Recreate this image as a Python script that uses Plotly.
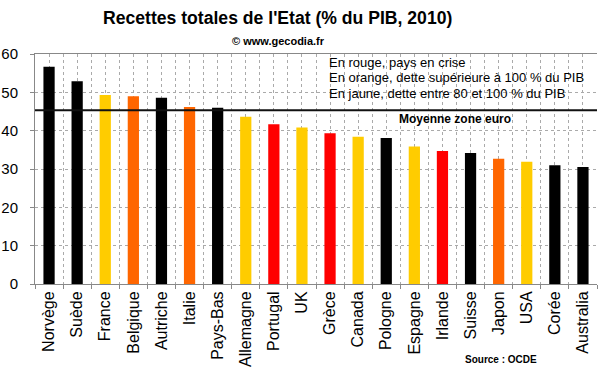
import plotly.graph_objects as go

countries = ["Norvège", "Suède", "France", "Belgique", "Autriche", "Italie", "Pays-Bas",
             "Allemagne", "Portugal", "UK", "Grèce", "Canada", "Pologne", "Espagne",
             "Irlande", "Suisse", "Japon", "USA", "Corée", "Australia"]
values = [56.7, 52.9, 49.3, 49.0, 48.6, 46.2, 46.0, 43.6, 41.7, 40.8,
          39.3, 38.4, 38.1, 35.9, 34.7, 34.2, 32.7, 31.9, 31.0, 30.5]
groups = ["autre", "autre", "jaune", "orange", "autre", "orange", "autre", "jaune", "rouge", "jaune",
          "rouge", "jaune", "autre", "jaune", "rouge", "autre", "orange", "jaune", "autre", "autre"]
mean_zone_euro = 45.3
y_ticks = [0, 10, 20, 30, 40, 50, 60]

palette = {"autre": "#000000", "jaune": "#FFCC00", "orange": "#FF6600", "rouge": "#FF0000"}
FONT = "Liberation Sans, Arial, sans-serif"

fig = go.Figure()
fig.add_trace(go.Bar(x=countries, y=values, marker=dict(color=[palette[g] for g in groups], line=dict(width=0)),
                     width=0.4, showlegend=False, hoverinfo="x+y"))

fig.add_shape(type="line", xref="x domain", yref="y", x0=0, x1=1, y0=mean_zone_euro, y1=mean_zone_euro,
              line=dict(color="#111111", width=2), layer="above")

fig.update_layout(
    width=600, height=372,
    margin=dict(l=35, r=3, t=54, b=88),
    paper_bgcolor="white", plot_bgcolor="white",
    font=dict(family=FONT, color="#000000"),
    xaxis=dict(type="category", tickson="boundaries", showgrid=True, gridcolor="#aaaaaa", griddash="dot",
               gridwidth=1, ticks="outside", ticklen=4, tickcolor="#888888", showline=True,
               linecolor="#888888", mirror=True, tickangle=-90, tickfont=dict(size=16, family=FONT),
               range=[-0.5, 19.5], automargin=False, ticklabelstandoff=0),
    xaxis2=dict(overlaying="x", range=[-0.5, 19.5], tick0=0, dtick=1, showgrid=True, gridcolor="#aaaaaa",
                griddash="dot", showticklabels=False, ticks="", showline=False, zeroline=False),
    yaxis=dict(range=[0, 60], tickvals=y_ticks, showgrid=True, gridcolor="#aaaaaa", griddash="dot",
               ticks="outside", ticklen=4, tickcolor="#888888", showline=True, linecolor="#888888",
               zeroline=False, tickfont=dict(size=15, family=FONT), ticklabelstandoff=9, automargin=False),
    bargap=0.6,
)
# invisible trace to activate xaxis2 gridlines (category centres)
fig.add_trace(go.Scatter(x=[0], y=[0], xaxis="x2", mode="markers", marker=dict(opacity=0),
                         showlegend=False, hoverinfo="skip"))

PH = 230.0

def py(ypix):
    return (284 - ypix) / PH

def px(xpix):
    return (xpix - 35) / 562.0

fig.add_annotation(text="<b>Recettes totales de l'Etat (% du PIB, 2010)</b>", xref="paper", yref="paper",
                   x=px(277), y=py(18), showarrow=False, xanchor="center", yanchor="middle",
                   font=dict(size=17.6, family=FONT))
fig.add_annotation(text="<b>© www.gecodia.fr</b>", xref="paper", yref="paper",
                   x=px(278), y=py(41), showarrow=False, xanchor="center", yanchor="middle",
                   font=dict(size=11, family=FONT))

notes = ["En rouge, pays en crise", "En orange, dette supérieure à 100 % du PIB",
         "En jaune, dette entre 80 et 100 % du PIB"]
for i, t in enumerate(notes):
    fig.add_annotation(text=t, xref="paper", yref="paper", x=px(327),
                       y=py(62 + 15.5 * i), showarrow=False, xanchor="left", yanchor="middle",
                       font=dict(size=13, family=FONT))

fig.add_annotation(text="<b>Moyenne zone euro</b>", xref="paper", yref="paper", x=px(455),
                   y=py(119), showarrow=False, xanchor="center", yanchor="middle",
                   font=dict(size=12, family=FONT))
fig.add_annotation(text="<b>Source : OCDE</b>", xref="paper", yref="paper", x=px(463),
                   y=py(360), showarrow=False, xanchor="left", yanchor="middle",
                   font=dict(size=10, family=FONT))

fig.write_html("out.html", config={"displayModeBar": False},
               post_script="document.body.style.margin='0';document.body.style.overflow='hidden';")
